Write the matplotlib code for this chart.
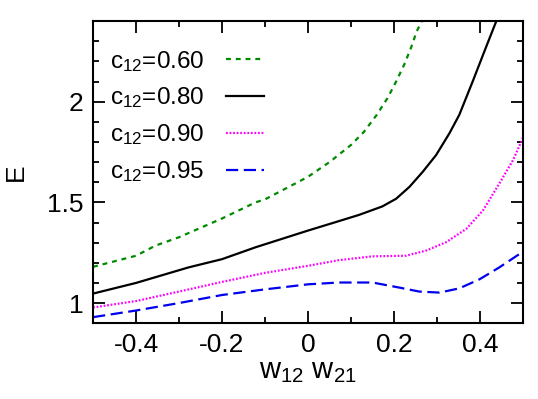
import numpy as np
import matplotlib
matplotlib.use("Agg")
import matplotlib.pyplot as plt
from matplotlib.ticker import MultipleLocator

plt.rcParams['font.family'] = ['Liberation Sans', 'DejaVu Sans']
plt.rcParams['mathtext.fontset'] = 'custom'
plt.rcParams['mathtext.rm'] = 'Liberation Sans'
plt.rcParams['mathtext.it'] = 'Liberation Sans'

# c12 = 0.60
w_060 = [-0.5, -0.4, -0.355, -0.3, -0.2, -0.122, -0.1, 0.0, 0.05, 0.1, 0.13, 0.16, 0.185, 0.205, 0.224, 0.24, 0.253, 0.265, 0.275]
E_060 = [1.18, 1.235, 1.285, 1.327, 1.42, 1.50, 1.515, 1.627, 1.70, 1.785, 1.85, 1.935, 2.018, 2.10, 2.185, 2.27, 2.35, 2.40, 2.45]
# c12 = 0.80
w_080 = [-0.5, -0.4, -0.278, -0.2, -0.122, 0.0, 0.072, 0.119, 0.173, 0.205, 0.236, 0.267, 0.298, 0.329, 0.352, 0.383, 0.414, 0.438, 0.45]
E_080 = [1.047, 1.10, 1.177, 1.218, 1.277, 1.36, 1.407, 1.438, 1.48, 1.518, 1.577, 1.652, 1.735, 1.843, 1.935, 2.10, 2.27, 2.40, 2.47]
# c12 = 0.90
w_090 = [-0.5, -0.4, -0.3, -0.2, -0.1, 0.0, 0.072, 0.15, 0.228, 0.274, 0.321, 0.368, 0.407, 0.445, 0.477, 0.5]
E_090 = [0.978, 1.01, 1.057, 1.105, 1.15, 1.185, 1.213, 1.232, 1.235, 1.26, 1.302, 1.368, 1.46, 1.593, 1.71, 1.82]
# c12 = 0.95
w_095 = [-0.5, -0.4, -0.3, -0.2, -0.1, 0.0, 0.072, 0.15, 0.212, 0.259, 0.306, 0.352, 0.399, 0.445, 0.5]
E_095 = [0.93, 0.963, 1.0, 1.04, 1.068, 1.093, 1.102, 1.102, 1.077, 1.057, 1.052, 1.073, 1.118, 1.177, 1.255]

labels = ['c$_{12}$=0.60', 'c$_{12}$=0.80', 'c$_{12}$=0.90', 'c$_{12}$=0.95']

fig = plt.figure(figsize=(5.38, 3.99), dpi=100)
ax = fig.add_axes([0.173, 0.190, 0.799, 0.757])

lw = 1.6
ax.plot(w_060, E_060, color='#008a00', lw=lw, dashes=(2.2, 2.2), label=labels[0])
ax.plot(w_080, E_080, color='black', lw=lw, label=labels[1])
ax.plot(w_090, E_090, color='#ff00ff', lw=lw, dashes=(0.8, 0.8), label=labels[2])
ax.plot(w_095, E_095, color='#0000ee', lw=lw, dashes=(5.5, 2.5), label=labels[3])

ax.set_xlim(-0.5, 0.5)
ax.set_ylim(0.9, 2.4)
ax.xaxis.set_minor_locator(MultipleLocator(0.1))
ax.yaxis.set_minor_locator(MultipleLocator(0.1))
ax.set_xticks([-0.4, -0.2, 0, 0.2, 0.4])
ax.set_xticklabels(['-0.4', '-0.2', '0', '0.2', '0.4'])
ax.set_yticks([1, 1.5, 2])
ax.set_yticklabels(['1', '1.5', '2'])

ax.tick_params(which='both', direction='in', top=True, right=True, width=1.3, labelsize=19)
ax.tick_params(which='major', length=8.5, pad=7)
ax.tick_params(which='minor', length=4.5)
for s in ax.spines.values():
    s.set_linewidth(1.5)

ax.set_xlabel('w$_{12}$ w$_{21}$', fontsize=21, labelpad=0)
ax.set_ylabel('E', fontsize=19, labelpad=14)

ax.legend(loc='upper left', frameon=False, markerfirst=False, fontsize=17.5,
          handlelength=1.55, handletextpad=0.9, labelspacing=0.49,
          bbox_to_anchor=(0.0, 0.965), borderaxespad=0.3)

fig.savefig('out.png', dpi=100)
